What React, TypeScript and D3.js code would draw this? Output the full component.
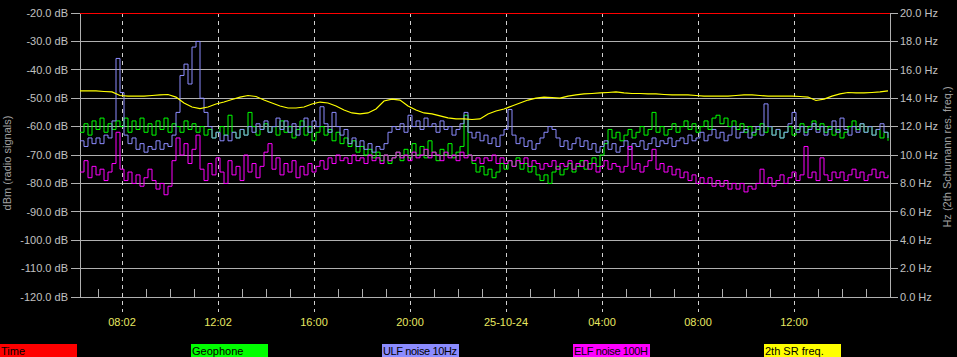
import React from "react";
import * as d3 from "d3";

// ---- data ----
const START_LABEL = "24-10-24 06:17";
const STEP_HOURS = 1 / 6; // noisy series sample step
const SR_STEP_HOURS = 1 / 3; // SR freq sample step

const timeTickHours = [1.75, 5.75, 9.75, 13.75, 17.75, 21.75, 25.75, 29.75];
const timeTickLabels = ["08:02", "12:02", "16:00", "20:00", "25-10-24", "04:00", "08:00", "12:00"];

const dbTicks = [-20, -30, -40, -50, -60, -70, -80, -90, -100, -110, -120];
const hzTicks = [20, 18, 16, 14, 12, 10, 8, 6, 4, 2, 0];

const ulf = [
  -65, -67, -64, -66, -64, -66, -63, -64, -58, -36,
  -48, -63, -66, -64, -68, -66, -69, -67, -68, -65,
  -68, -66, -67, -63, -55, -42, -38, -45, -32, -30,
  -50, -55, -60, -64, -62, -65, -63, -65, -62, -64,
  -61, -63, -60, -62, -59, -61, -58, -62, -60, -57,
  -61, -58, -62, -59, -63, -60, -57, -62, -58, -60,
  -53, -59, -62, -55, -60, -63, -61, -66, -64, -67,
  -65, -68, -66, -69, -67, -68, -66, -62, -60, -61,
  -59, -62, -56, -60, -58, -61, -57, -60, -59, -62,
  -58, -61, -60, -63, -61, -59, -55, -62, -64, -62,
  -65, -63, -66, -64, -67, -63, -61, -54, -63, -66,
  -64, -67, -65, -68, -66, -64, -62, -60, -61, -64,
  -67, -65, -68, -66, -64, -67, -65, -68, -66, -69,
  -67, -65, -68, -66, -69, -67, -65, -68, -66, -67,
  -65, -68, -66, -64, -67, -65, -66, -64, -67, -65,
  -64, -66, -63, -65, -64, -62, -65, -63, -61, -64,
  -62, -65, -63, -60, -64, -62, -61, -64, -62, -60,
  -63, -52, -60, -63, -61, -64, -62, -59, -55, -62,
  -60, -63, -61, -59, -62, -60, -63, -61, -58, -62,
  -57, -61, -63, -60, -62, -59, -62, -60, -63, -61,
  -59, -62, -64,
];

const geophone = [
  -62, -59, -63, -58, -61, -57, -62, -59, -61, -58,
  -60, -57, -62, -58, -61, -57, -62, -59, -63, -58,
  -61, -57, -62, -59, -60, -62, -58, -61, -59, -62,
  -60, -63, -61, -64, -62, -60, -63, -56, -62, -64,
  -61, -63, -55, -60, -63, -61, -59, -62, -60, -63,
  -58, -62, -60, -64, -61, -58, -63, -60, -65, -62,
  -60, -63, -61, -65, -62, -66, -64, -67, -65, -69,
  -67, -70, -68, -71, -69, -72, -70, -73, -71, -69,
  -72, -68, -71, -66, -70, -67, -71, -65, -69, -72,
  -68, -70, -66, -71, -69, -67, -56, -70, -73, -76,
  -74, -77, -75, -78, -76, -73, -75, -72, -74, -71,
  -75, -73, -76, -74, -77, -79, -77, -80, -76, -74,
  -77, -75, -73, -76, -74, -72, -75, -73, -71, -74,
  -70, -66, -61, -64, -62, -65, -63, -61, -64, -62,
  -60, -63, -61, -55, -62, -60, -63, -61, -59, -62,
  -60, -58, -61, -59, -62, -60, -58, -61, -57, -56,
  -59, -57, -60, -58, -61, -59, -62, -60, -63, -61,
  -59, -62, -60, -63, -61, -64, -62, -60, -63, -61,
  -59, -62, -60, -58, -61, -59, -62, -60, -63, -61,
  -64, -62, -60, -58, -61, -59, -62, -60, -63, -61,
  -64, -62, -65,
];

const elf = [
  -76, -72, -78, -74, -77, -75, -79, -76, -73, -62,
  -75, -79, -76, -80, -77, -81, -78, -75, -79, -82,
  -80, -84, -81, -72, -64, -70, -66, -73, -68, -63,
  -75, -79, -73, -77, -71, -76, -80, -72, -77, -74,
  -79, -70, -76, -73, -78, -74, -69, -66, -75, -71,
  -77, -73, -76, -72, -78, -74, -77, -73, -76, -74,
  -72, -75, -71, -73, -70, -72, -71, -73, -70, -72,
  -71, -73, -70, -72, -71, -73, -70, -72, -71, -69,
  -71, -70, -72, -69, -71, -70, -68, -71, -69, -70,
  -72, -69, -71, -70, -72, -69, -71, -70, -72, -71,
  -73, -71, -72, -70, -73, -71, -73, -72, -74, -72,
  -73, -71, -74, -72, -73, -75, -73, -74, -72, -75,
  -73, -74, -72, -75, -73, -74, -72, -75, -73, -76,
  -74, -72, -75, -73, -74, -76, -74, -67, -75, -73,
  -76, -74, -72, -68, -75, -73, -76, -74, -77, -75,
  -78, -76, -79, -77, -80, -78, -80, -78, -81, -79,
  -81, -79, -82, -80, -82, -80, -83, -81, -82, -80,
  -75, -80, -78, -81, -79, -77, -80, -78, -76, -79,
  -77, -67, -78, -76, -79, -71, -77, -79, -76, -78,
  -76, -79, -77, -75, -78, -76, -79, -77, -75, -78,
  -76, -78, -77,
];

const srFreq = [
  14.51, 14.51, 14.51, 14.47, 14.44, 14.19, 14.15, 14.15, 14.15, 14.19,
  14.23, 14.26, 14.08, 13.66, 13.38, 13.27, 13.38, 13.59, 13.73, 13.91,
  14.08, 14.19, 14.12, 13.87, 13.66, 13.45, 13.31, 13.31, 13.38, 13.59,
  13.73, 13.66, 13.45, 13.17, 12.96, 12.89, 12.96, 13.24, 13.80, 13.94,
  13.87, 13.45, 13.17, 12.96, 12.89, 12.75, 12.61, 12.54, 12.54, 12.50,
  12.54, 12.89, 13.10, 13.24, 13.45, 13.66, 13.87, 14.01, 14.08, 14.05,
  14.01, 14.15, 14.23, 14.30, 14.33, 14.37, 14.40, 14.44, 14.37, 14.33,
  14.33, 14.30, 14.30, 14.26, 14.23, 14.23, 14.23, 14.19, 14.15, 14.15,
  14.15, 14.15, 14.19, 14.23, 14.23, 14.19, 14.15, 14.15, 14.15, 14.15,
  14.12, 14.08, 13.84, 13.94, 14.15, 14.30, 14.40, 14.37, 14.37, 14.40,
  14.44, 14.51,
];

const legendNames = ["Time", "Geophone", "ULF noise 10Hz", "ELF noise 100H", "2th SR freq."];
const legendColors = ["#ff0000", "#00ff00", "#8c8cff", "#ff00ff", "#ffff00"];

// ---- layout ----
const W = 957;
const H = 357;
const L = 80;
const R = 890;
const T = 13;
const B = 297;
const TOTAL_HOURS = 33.75;

export default function App() {
  const x = d3.scaleLinear().domain([0, TOTAL_HOURS]).range([L, R]);
  const yDb = d3.scaleLinear().domain([-120, -20]).range([B, T]);
  const yHz = d3.scaleLinear().domain([0, 20]).range([B, T]);

  const lineDb = d3
    .line<number>()
    .x((_, i) => x(i * STEP_HOURS))
    .y((v) => yDb(v))
    .curve(d3.curveStepAfter);
  const lineHz = d3
    .line<number>()
    .x((_, i) => x(i * SR_STEP_HOURS))
    .y((v) => yHz(v));

  const minorHours = d3.range(0.75, TOTAL_HOURS, 1).filter(
    (h) => !timeTickHours.some((t) => Math.abs(t - h) < 0.01)
  );

  const gridColor = "#b0b0b0";
  const textColor = "#c0c0c0";
  const font = "Liberation Sans, Arial, sans-serif";
  const legendW = 77;
  const legendStep = 191;

  return (
    <svg
      width={W}
      height={H}
      style={{ position: "absolute", left: 0, top: 0, background: "#000" }}
      fontFamily={font}
      data-start={START_LABEL}
    >
      <rect x={0} y={0} width={W} height={H} fill="#000" />
      {dbTicks.map((v) => (
        <g key={"g" + v}>
          <line x1={71} x2={R} y1={yDb(v)} y2={yDb(v)} stroke={gridColor} strokeWidth={1} shapeRendering="crispEdges" />
          <text x={68} y={yDb(v)} dy="0.35em" textAnchor="end" fontSize={11} fill={textColor}>
            {v.toFixed(1) + " dB"}
          </text>
        </g>
      ))}
      {hzTicks.map((v) => (
        <g key={"h" + v}>
          <line x1={R} x2={898} y1={yHz(v)} y2={yHz(v)} stroke={gridColor} strokeWidth={1} shapeRendering="crispEdges" />
          <text x={900} y={yHz(v)} dy="0.35em" textAnchor="start" fontSize={11} fill={textColor}>
            {v.toFixed(1) + " Hz"}
          </text>
        </g>
      ))}
      <line x1={L} x2={L} y1={T} y2={B} stroke={gridColor} shapeRendering="crispEdges" />
      <line x1={R} x2={R} y1={T} y2={B} stroke={gridColor} shapeRendering="crispEdges" />
      {minorHours.map((h) => (
        <line key={"m" + h} x1={x(h)} x2={x(h)} y1={B} y2={B - 8} stroke={gridColor} shapeRendering="crispEdges" />
      ))}
      {timeTickHours.map((h, i) => (
        <g key={"t" + h}>
          <line x1={x(h)} x2={x(h)} y1={T} y2={312} stroke="#d0d0d0" strokeDasharray="4,4" shapeRendering="crispEdges" />
          <text x={x(h)} y={326} textAnchor="middle" fontSize={11} fill="#e8e860">
            {timeTickLabels[i]}
          </text>
        </g>
      ))}
      <line x1={L} x2={R} y1={yDb(-20)} y2={yDb(-20)} stroke={legendColors[0]} shapeRendering="crispEdges" />
      <path d={lineDb(geophone) || ""} fill="none" stroke={legendColors[1]} strokeWidth={1} />
      <path d={lineDb(ulf) || ""} fill="none" stroke={legendColors[2]} strokeWidth={1} />
      <path d={lineDb(elf) || ""} fill="none" stroke={legendColors[3]} strokeWidth={1} />
      <path d={lineHz(srFreq) || ""} fill="none" stroke={legendColors[4]} strokeWidth={1.2} />
      <text
        transform={`translate(11, ${(T + B) / 2 + 8}) rotate(-90)`}
        textAnchor="middle"
        fontSize={11}
        fill="#a0a0a0"
      >
        dBm (radio signals)
      </text>
      <text
        transform={`translate(951, ${(T + B) / 2 + 2}) rotate(-90)`}
        textAnchor="middle"
        fontSize={11}
        fill="#a0a0a0"
      >
        Hz (2th Schumann res. freq.)
      </text>
      {legendNames.map((n, i) => (
        <g key={n}>
          <rect x={i * legendStep} y={344} width={legendW} height={13} fill={legendColors[i]} />
          <text x={i * legendStep + 1} y={355} fontSize={11} fill="#000" textLength={n.length > 13 ? 74 : undefined}>
            {n}
          </text>
        </g>
      ))}
    </svg>
  );
}
